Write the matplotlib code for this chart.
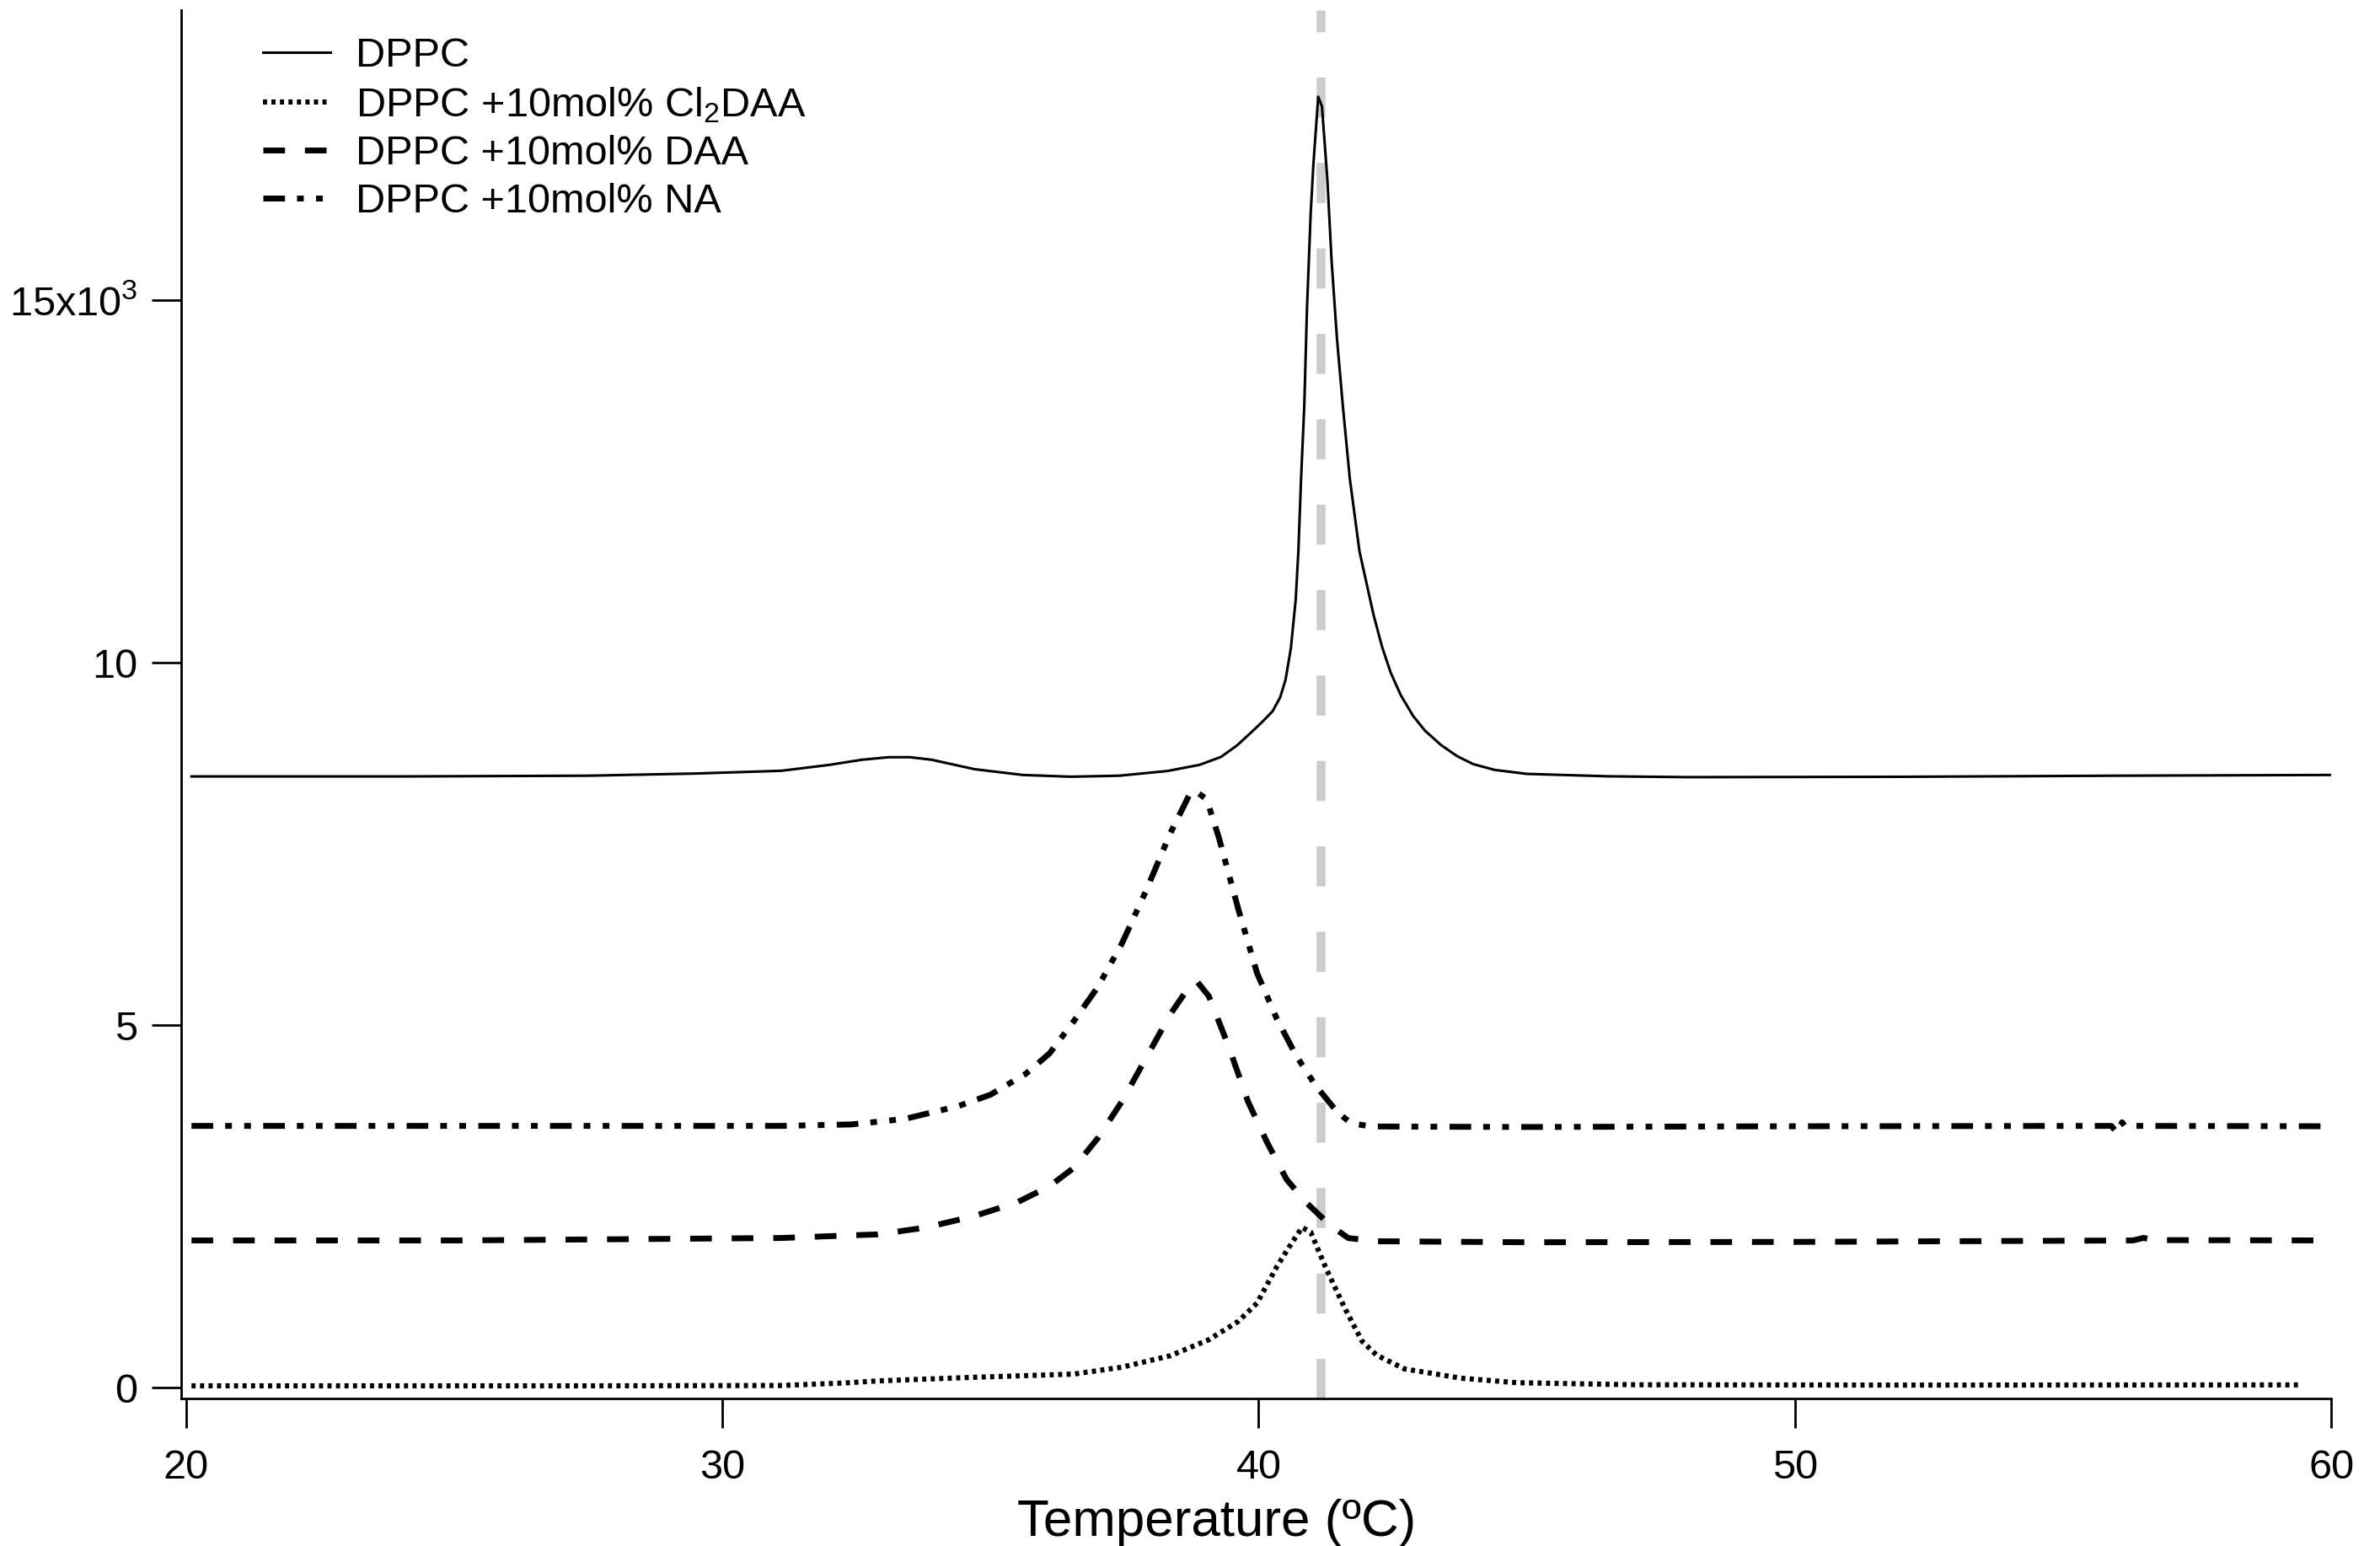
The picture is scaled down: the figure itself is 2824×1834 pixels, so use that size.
import matplotlib
matplotlib.use("Agg")
import matplotlib.pyplot as plt

plt.rcParams['font.family'] = ['Liberation Sans', 'DejaVu Sans']
plt.rcParams['mathtext.fontset'] = 'custom'
plt.rcParams['mathtext.rm'] = 'Liberation Sans'
plt.rcParams['mathtext.it'] = 'Liberation Sans'
plt.rcParams['mathtext.default'] = 'regular'

# DSC thermograms (temperature in C, heat capacity)
dppc_T = [20.1, 24, 27.5, 29.5, 31.1, 32.0, 32.6, 33.1, 33.5, 33.9, 34.7, 35.6, 36.5, 37.4,
          38.3, 38.9, 39.3, 39.6, 39.85, 40.05, 40.26, 40.4, 40.5, 40.6, 40.69, 40.74, 40.79,
          40.85, 40.9, 40.97, 41.02, 41.11, 41.18, 41.28, 41.36, 41.46, 41.57, 41.7, 41.88,
          42.14, 42.3, 42.46, 42.65, 42.88, 43.1, 43.4, 43.7, 44.0, 44.4, 45.0, 46.5, 48, 52,
          56, 60]
dppc_y = [8430, 8430, 8440, 8470, 8508, 8590, 8660, 8695, 8695, 8660, 8530, 8450, 8426, 8440,
          8505, 8590, 8700, 8860, 9030, 9170, 9330, 9520, 9760, 10197, 10865, 11532, 12533,
          13534, 14869, 16203, 16870, 17805, 17671, 16670, 15536, 14468, 13534, 12533, 11532,
          10664, 10220, 9864, 9550, 9264, 9062, 8863, 8710, 8600, 8520, 8465, 8432, 8420, 8425,
          8440, 8450]

cl2daa_T = [20.1, 27.5, 31.1, 32.3, 32.9, 34.7, 36.55, 37.45, 38.35, 39.07, 39.62, 39.97,
            40.34, 40.61, 40.81, 40.97, 41.24, 41.6, 41.93, 42.2, 42.72, 43.77, 44.81, 47,
            52, 59.4]
cl2daa_y = [25, 25, 30, 65, 93, 143, 187, 282, 440, 661, 914, 1167,
            1672, 1988, 2209, 2146, 1672, 1104, 638, 448, 258, 131, 68, 40,
            35, 38]

daa_T = [20.1, 25, 31.1, 32.9, 33.8, 34.7, 35.5, 36.1, 36.55, 37.0, 37.45, 37.9, 38.35,
         38.67, 38.85, 39.07, 39.44, 39.8, 40.16, 40.52, 40.88, 41.33, 41.67, 42.2, 45, 50,
         56.3, 56.5, 56.7, 60]
daa_y = [2030, 2030, 2064, 2114, 2209, 2367, 2557, 2778, 3030, 3441, 3947, 4547, 5147,
         5494, 5602, 5400, 4705, 3947, 3378, 2872, 2557, 2241, 2063, 2019, 2005, 2010,
         2030, 2065, 2035, 2030]

na_T = [20.1, 25, 31.1, 32.4, 33.4, 34.4, 35.0, 35.65, 36.1, 36.55, 37.0, 37.45, 37.9,
        38.35, 38.71, 38.85, 39.03, 39.26, 39.62, 39.97, 40.34, 40.7, 41.06, 41.46, 41.72,
        42.09, 42.7, 45, 50, 55.9, 56.0, 56.1, 56.15, 60]
na_y = [3610, 3610, 3610, 3630, 3706, 3883, 4041, 4325, 4610, 5052, 5526, 6126, 6853,
        7643, 8180, 8211, 8116, 7580, 6600, 5716, 5084, 4578, 4168, 3806, 3647,
        3603, 3600, 3595, 3605, 3610, 3520, 3660, 3610, 3605]

tm_dppc = 41.15

fig = plt.figure(figsize=(14.12, 9.17), dpi=200)
ax = fig.add_axes([0.0761, 0.0954, 0.9034, 0.8981])

ax.axvline(tm_dppc, color='#cccccc', lw=3.8, dashes=(4.5, 5.1), zorder=1)

ax.plot(dppc_T, dppc_y, color='black', lw=1.1, label='DPPC', zorder=3)
ax.plot(cl2daa_T, cl2daa_y, color='black', lw=2.2, dashes=(0.8, 0.85),
        dash_capstyle='butt', label='DPPC +10mol% Cl$_2$DAA', zorder=3)
ax.plot(daa_T, daa_y, color='black', lw=2.5, dashes=(3.7, 3.4),
        dash_capstyle='butt', label='DPPC +10mol% DAA', zorder=3)
ax.plot(na_T, na_y, color='black', lw=2.5, dashes=(3.7, 2.05, 1.15, 2.1, 1.15, 2.1),
        dash_capstyle='butt', label='DPPC +10mol% NA', zorder=3)

ax.set_xlim(19.906, 60)
ax.set_ylim(-150, 19000)
ax.set_xticks([20, 30, 40, 50, 60])
ax.set_yticks([0, 5000, 10000, 15000])
ax.set_yticklabels(['0', '5', '10', '15x10$^3$'])

for s in ['top', 'right']:
    ax.spines[s].set_visible(False)
for s in ['left', 'bottom']:
    ax.spines[s].set_linewidth(1.0)

ax.tick_params(axis='both', direction='out', length=12.5, width=1.0, labelsize=17.5)
ax.tick_params(axis='x', pad=9)
ax.tick_params(axis='y', pad=6)

ax.set_xlabel('Temperature (ºC)', fontsize=22.3)
ax.xaxis.set_label_coords(0.4818, -0.072)

ax.legend(loc='upper left', bbox_to_anchor=(0.1105, 0.976), bbox_transform=fig.transFigure,
          frameon=False, fontsize=17.5, handlelength=1.65, handletextpad=0.62,
          labelspacing=0.25, borderpad=0, borderaxespad=0)

fig.savefig('out.png', dpi=200)
